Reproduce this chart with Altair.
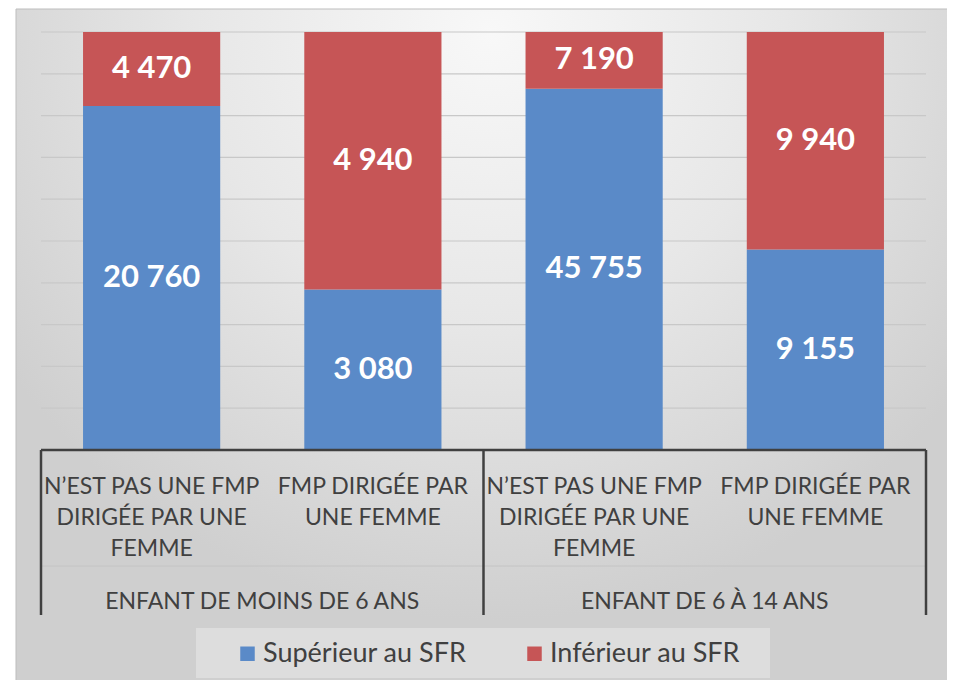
import altair as alt
import pandas as pd

# ---- data ----
groups = ["ENFANT DE MOINS DE 6 ANS", "ENFANT DE 6 À 14 ANS"]
subcats = ["N’EST PAS UNE FMP\nDIRIGÉE PAR UNE\nFEMME", "FMP DIRIGÉE PAR\nUNE FEMME"]
series = ["Supérieur au SFR", "Inférieur au SFR"]
superieur = [20760, 3080, 45755, 9155]
inferieur = [4470, 4940, 7190, 9940]
grid_values = [0.1, 0.2, 0.3, 0.4, 0.5, 0.6, 0.7, 0.8, 0.9, 1.0]

colors = ["#5A8AC8", "#C65556"]
TXT = "#404040"
FONT = "Lato"
W, H = 885, 418

keys = [f"{g}|{s}" for g in groups for s in subcats]
rows = []
for i, k in enumerate(keys):
    for j, (name, vals) in enumerate(zip(series, [superieur, inferieur])):
        v = vals[i]
        rows.append({"key": k, "series": name, "order": j, "value": v,
                     "label": f"{v:,}".replace(",", " ")})
df = pd.DataFrame(rows)

xscale = alt.Scale(domain=keys, paddingInner=0, paddingOuter=0)
yscale = alt.Scale(domain=[0, 1], nice=False)
one = pd.DataFrame({"a": [0]})

# background with radial gradient and frame
bg = alt.Chart(one).mark_rect(
    fill={"gradient": "radial", "x1": 0.5, "y1": 0.15, "r1": 0,
          "x2": 0.5, "y2": 0.15, "r2": 0.62,
          "stops": [{"offset": 0, "color": "#f8f8f8"},
                    {"offset": 0.5, "color": "#e7e7e7"},
                    {"offset": 1, "color": "#cfcfcf"}]},
    stroke="#bdbdbd", strokeWidth=1
).encode(x=alt.value(-25), x2=alt.value(W + 40), y=alt.value(-23), y2=alt.value(H + 270))

# gridlines
grid = alt.Chart(pd.DataFrame({"v": grid_values})).mark_rule(
    color="#c8c8c8", strokeWidth=1.2
).encode(y=alt.Y("v:Q", scale=yscale, axis=None), x=alt.value(0), x2=alt.value(W))

# legend box
legbox = alt.Chart(one).mark_rect(fill="#dddddd").encode(
    x=alt.value(155), x2=alt.value(729), y=alt.value(596), y2=alt.value(646))

base = alt.Chart(df).transform_stack(
    stack="value", groupby=["key"], as_=["v0", "v1"],
    sort=[alt.SortField("order", order="ascending")], offset="normalize"
).transform_calculate(mid="(datum.v0 + datum.v1) / 2")

bars = base.mark_bar(width=alt.RelativeBandSize(0.62)).encode(
    x=alt.X("key:N", scale=xscale, axis=None),
    y=alt.Y("v0:Q", scale=yscale, axis=None),
    y2="v1:Q",
    color=alt.Color("series:N", scale=alt.Scale(domain=series, range=colors),
                    legend=alt.Legend(title=None, orient="none", legendX=193, legendY=608,
                                      direction="horizontal", symbolType="square",
                                      symbolSize=210, symbolStrokeWidth=0,
                                      labelFont=FONT, labelFontSize=27, labelColor=TXT,
                                      columnPadding=54, labelOffset=2, padding=0,
                                      labelLimit=400)),
)

vals = base.mark_text(font=FONT, fontSize=31, fontWeight="bold", color="white",
                      baseline="middle").encode(
    x=alt.X("key:N", scale=xscale, axis=None),
    y=alt.Y("mid:Q", scale=yscale, axis=None),
    text="label:N",
)

# category axis (hierarchical)
sub_df = pd.DataFrame({"key": keys, "text": [s for g in groups for s in subcats]})
sublabels = alt.Chart(sub_df).mark_text(
    font=FONT, fontSize=23, color=TXT, lineBreak="\n", lineHeight=31,
    baseline="alphabetic", align="center"
).encode(x=alt.X("key:N", scale=xscale, axis=None), y=alt.value(462), text="text:N")

grp_df = pd.DataFrame({"key": [keys[0], keys[2]], "text": groups})
grplabels = alt.Chart(grp_df).mark_text(
    font=FONT, fontSize=23, color=TXT, baseline="alphabetic", align="center"
).encode(x=alt.X("key:N", scale=xscale, bandPosition=1, axis=None),
         y=alt.value(577), text="text:N")

axis_line = alt.Chart(one).mark_rule(color=TXT, strokeWidth=2.5).encode(
    x=alt.value(0), x2=alt.value(W), y=alt.value(H))
faint_line = alt.Chart(one).mark_rule(color="#c4c4c4", strokeWidth=1).encode(
    x=alt.value(0), x2=alt.value(W), y=alt.value(534))
sep_left = alt.Chart(pd.DataFrame({"key": [keys[0], keys[2]]})).mark_rule(
    color=TXT, strokeWidth=2.5
).encode(x=alt.X("key:N", scale=xscale, bandPosition=0, axis=None),
         y=alt.value(H), y2=alt.value(583))
sep_right = alt.Chart(pd.DataFrame({"key": [keys[3]]})).mark_rule(
    color=TXT, strokeWidth=2.5
).encode(x=alt.X("key:N", scale=xscale, bandPosition=1, axis=None),
         y=alt.value(H), y2=alt.value(583))

chart = alt.layer(
    bg, grid, legbox, faint_line, bars, vals, sublabels, grplabels,
    axis_line, sep_left, sep_right
).properties(
    width=W, height=H,
    autosize=alt.AutoSizeParams(type="none"),
    padding={"left": 33, "top": 24, "right": 21, "bottom": 230},
    background="white",
).configure_view(stroke=None)

chart.save("out.html", embed_options={"renderer": "svg", "actions": False})
